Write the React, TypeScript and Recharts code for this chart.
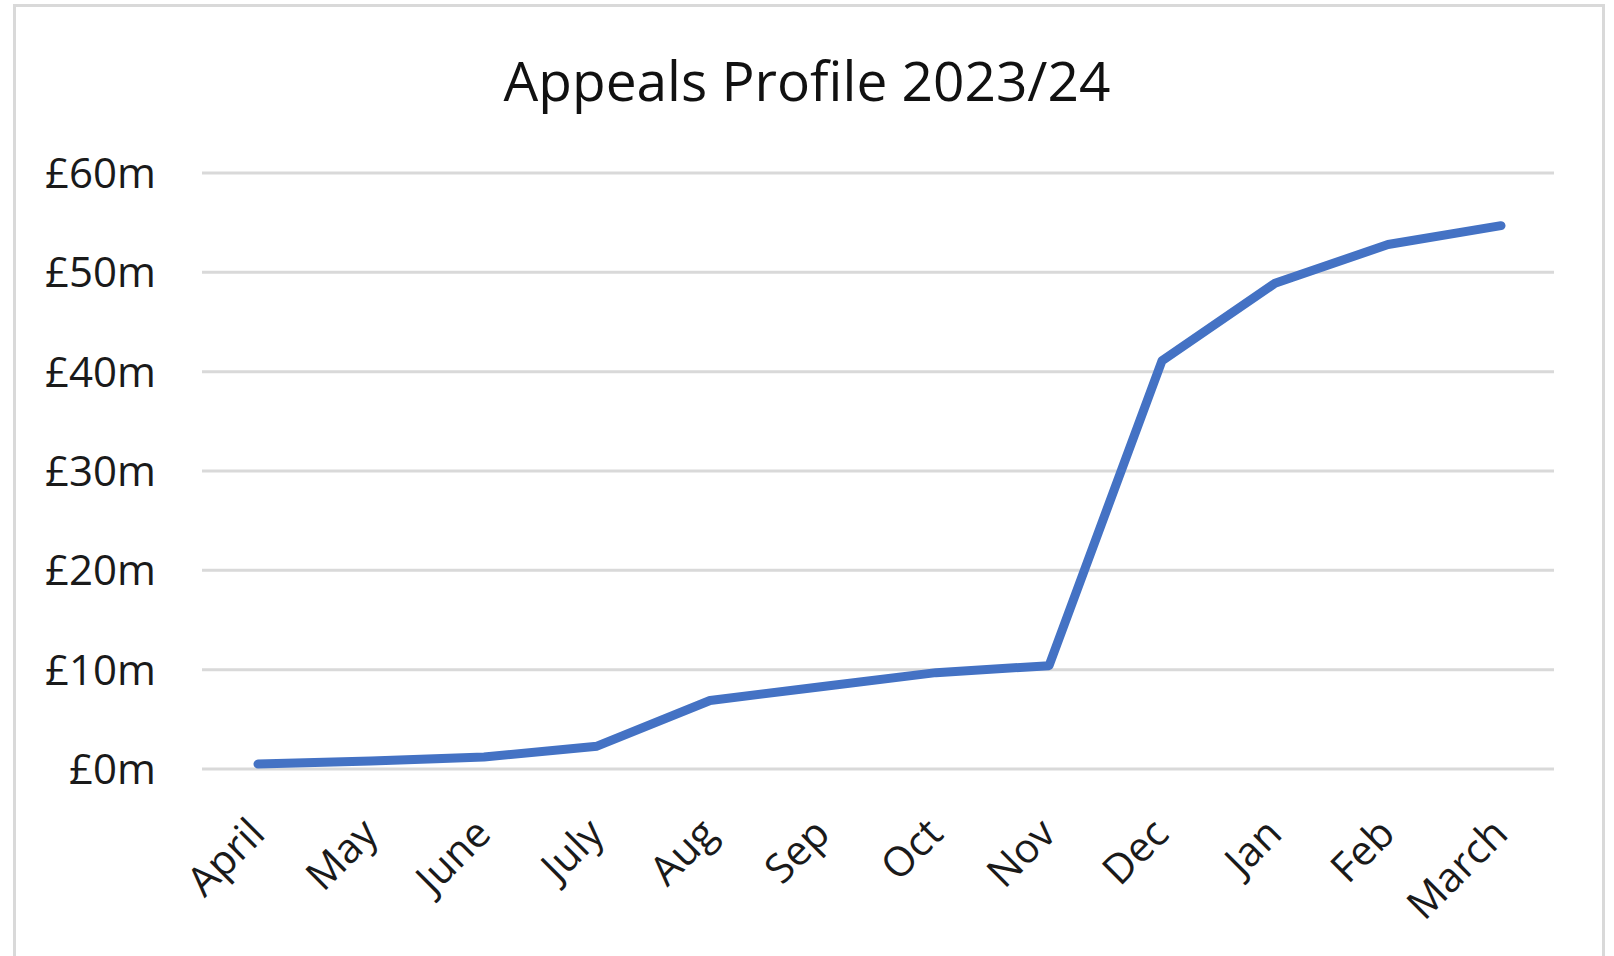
import React from "react";
import { LineChart, Line, XAxis, YAxis, CartesianGrid } from "recharts";

const months = ["April", "May", "June", "July", "Aug", "Sep", "Oct", "Nov", "Dec", "Jan", "Feb", "March"];
// cumulative appeals, £m
const appeals = [0.5, 0.8, 1.2, 2.3, 6.9, 8.3, 9.7, 10.4, 41.1, 48.9, 52.8, 54.7];
const yTicks = [0, 10, 20, 30, 40, 50, 60];

const FONT = "'Open Sans', 'Noto Sans', sans-serif";
const TEXT = "#1a1a1a";

const data = months.map((m, i) => ({ month: m, value: appeals[i] }));

const MonthTick = ({ x, y, payload }: any) => {
  const ax = x + 9;
  const ay = y + 67;
  return (
    <text
      x={ax}
      y={ay}
      transform={`rotate(-45, ${ax}, ${ay})`}
      textAnchor="end"
      fontSize={41}
      fontFamily={FONT}
      fill={TEXT}
    >
      {payload.value}
    </text>
  );
};

export default function App() {
  return (
    <div style={{ position: "fixed", left: 0, top: 0, width: 1614, height: 956, background: "#fff", overflow: "hidden" }}>
      {/* chart frame, bottom edge runs off the page */}
      <div
        style={{
          position: "absolute",
          left: 13,
          top: 4,
          width: 1592,
          height: 1000,
          boxSizing: "border-box",
          border: "3px solid #d9d9d9",
        }}
      />
      <div
        style={{
          position: "absolute",
          left: 0,
          top: 52,
          width: 1614,
          textAlign: "center",
          fontFamily: FONT,
          fontSize: 55,
          lineHeight: "55px",
          color: "#111",
        }}
      >
        Appeals Profile 2023/24
      </div>
      <div style={{ position: "absolute", left: 0, top: 0 }}>
        <LineChart width={1614} height={956} data={data} margin={{ top: 173, right: 60, left: 0, bottom: 37 }}>
          <CartesianGrid vertical={false} stroke="#d9d9d9" strokeWidth={3} />
          <XAxis
            dataKey="month"
            height={150}
            axisLine={false}
            tickLine={false}
            tickSize={0}
            tickMargin={0}
            interval={0}
            padding={{ left: 56, right: 53 }}
            tick={<MonthTick />}
          />
          <YAxis
            width={202}
            domain={[0, 60]}
            ticks={yTicks}
            axisLine={false}
            tickLine={false}
            tickSize={0}
            tickMargin={46}
            tickFormatter={(v: number) => `£${v}m`}
            tick={{ fontSize: 42, fontFamily: FONT, fill: TEXT }}
          />
          <Line
            type="linear"
            dataKey="value"
            stroke="#4472c4"
            strokeWidth={9}
            strokeLinecap="round"
            strokeLinejoin="round"
            dot={false}
            activeDot={false}
            isAnimationActive={false}
          />
        </LineChart>
      </div>
    </div>
  );
}
